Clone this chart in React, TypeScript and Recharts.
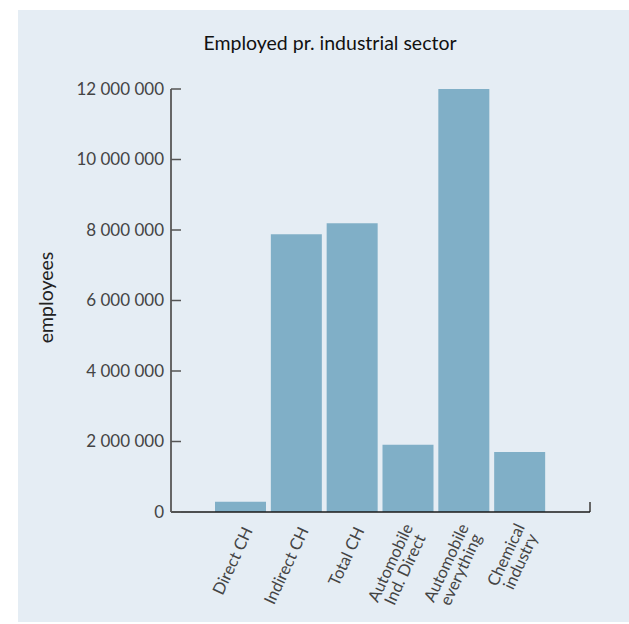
import React from 'react';
import * as R from 'recharts';
import { BarChart, Bar, XAxis, YAxis } from 'recharts';

const categories = [
    'Direct CH',
    'Indirect CH',
    'Total CH',
    'Automobile\nInd. Direct',
    'Automobile\neverything',
    'Chemical\nindustry',
];
const employees = [290000, 7880000, 8190000, 1910000, 12000000, 1700000];
const yTicks = [0, 2000000, 4000000, 6000000, 8000000, 10000000, 12000000];

const data = categories.map((sector, i) => ({ sector, employees: employees[i] }));

const FONT = 'Lato, "Open Sans", sans-serif';
const X_FS = 16.5;
const usePlotArea: any = (R as any).usePlotArea;

const fmt = (v: number) => String(v).replace(/\B(?=(\d{3})+(?!\d))/g, ' ');

let ctx: CanvasRenderingContext2D | null = null;
const measure = (s: string) => {
    if (!ctx) ctx = document.createElement('canvas').getContext('2d');
    if (!ctx) return s.length * 8;
    ctx.font = `${X_FS}px ${FONT}`;
    return ctx.measureText(s).width;
};

const YTick = (props: any) => {
    const { x, y, payload } = props;
    return (
        <g>
            <line x1={x} x2={x + 10} y1={y} y2={y} stroke="#555" strokeWidth={1.5} />
            <text x={x - 7} y={y} dy="0.35em" textAnchor="end" fill="#444" fontSize={17} fontFamily={FONT}>
                {fmt(payload.value)}
            </text>
        </g>
    );
};

const XTick = (props: any) => {
    const { x, y, payload } = props;
    const lines = String(payload.value).split('\n');
    const maxW = Math.max(...lines.map(measure));
    const lh = 16;
    return (
        <g transform={`translate(${x + 7},${y + 16}) rotate(-65)`}>
            {lines.map((l, i) => (
                <text
                    key={i}
                    x={-maxW / 2}
                    y={(i - (lines.length - 1) / 2) * lh}
                    dy="0.35em"
                    textAnchor="middle"
                    fill="#444"
                    fontSize={X_FS}
                    fontFamily={FONT}
                >
                    {l}
                </text>
            ))}
        </g>
    );
};

const AxisEnds = () => {
    const pa = usePlotArea ? usePlotArea() : null;
    if (!pa) return null;
    const yb = pa.y + pa.height;
    return (
        <g>
            <line x1={pa.x} x2={pa.x} y1={yb} y2={yb - 10} stroke="#555" strokeWidth={2} />
            <line x1={pa.x + pa.width} x2={pa.x + pa.width} y1={yb} y2={yb - 10} stroke="#666" strokeWidth={2} />
        </g>
    );
};

const YLabel = (props: any) => {
    const vb = props.viewBox || { x: 0, y: 89, width: 171, height: 423 };
    const cx = 45;
    const cy = vb.y + vb.height / 2 - 3;
    return (
        <text
            x={cx}
            y={cy}
            transform={`rotate(-90, ${cx}, ${cy})`}
            textAnchor="middle"
            dominantBaseline="central"
            fill="#222"
            fontSize={19.5}
            fontFamily={FONT}
        >
            employees
        </text>
    );
};

export default function App() {
    return (
        <div style={{ position: 'absolute', left: 0, top: 0, width: 629, height: 624, background: '#fff' }}>
            <div style={{ position: 'absolute', left: 18, top: 10, width: 611, height: 612, background: '#e5edf4' }} />
            <div
                style={{
                    position: 'absolute',
                    left: 130,
                    width: 400,
                    top: 31,
                    textAlign: 'center',
                    fontFamily: FONT,
                    fontSize: 19.5,
                    color: '#111',
                }}
            >
                Employed pr. industrial sector
            </div>
            <div style={{ position: 'absolute', left: 0, top: 0 }}>
                <BarChart
                    width={629}
                    height={624}
                    data={data}
                    margin={{ top: 89, right: 39, bottom: 12, left: 0 }}
                >
                    <XAxis
                        dataKey="sector"
                        height={100}
                        padding={{ left: 42, right: 42 }}
                        axisLine={{ stroke: '#1a1a1a', strokeWidth: 1.5 }}
                        tickLine={false}
                        tickSize={0}
                        tickMargin={0}
                        interval={0}
                        tick={<XTick />}
                    />
                    <YAxis
                        width={171}
                        domain={[0, 12000000]}
                        ticks={yTicks}
                        interval={0}
                        axisLine={{ stroke: '#666', strokeWidth: 2 }}
                        tickLine={false}
                        tickSize={0}
                        tickMargin={0}
                        tick={<YTick />}
                        label={<YLabel />}
                    />
                    <Bar dataKey="employees" fill="#80afc7" barSize={51} isAnimationActive={false} />
                    <AxisEnds />
                </BarChart>
            </div>
        </div>
    );
}
